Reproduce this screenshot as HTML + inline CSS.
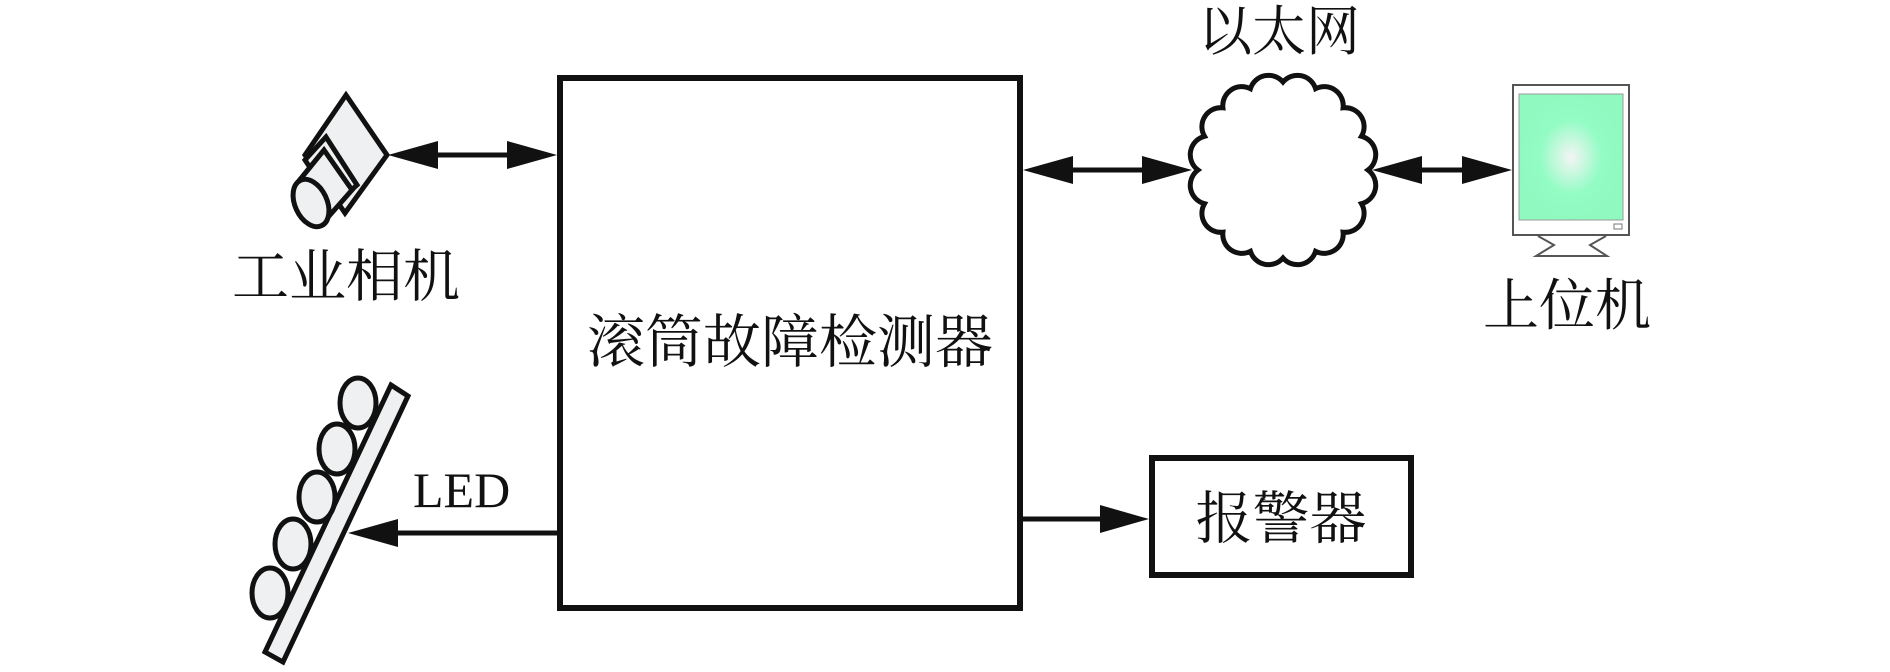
<!DOCTYPE html>
<html><head><meta charset="utf-8"><style>
html,body{margin:0;padding:0;background:#fff;}
svg{display:block;}
text{font-family:"Liberation Serif","Noto Serif CJK SC",serif;fill:#111;}
</style></head><body>
<svg width="1890" height="672" viewBox="0 0 1890 672" xmlns="http://www.w3.org/2000/svg">
<defs>
<radialGradient id="scr" cx="0.5" cy="0.5" r="0.5">
<stop offset="0" stop-color="#f4f4f4"/><stop offset="0.6" stop-color="#92fcc4"/><stop offset="1" stop-color="#8ff9c0"/>
</radialGradient>
</defs>
<!-- main box -->
<rect x="560" y="78" width="460" height="530" fill="#fff" stroke="#111" stroke-width="6"/>
<text x="790" y="362" font-size="58" text-anchor="middle">滚筒故障检测器</text>

<!-- camera -->
<g stroke="#111" stroke-width="5" fill="#eef0f1" stroke-linejoin="miter">
<polygon points="346,95 387,155 345,213 305,155"/>
<polygon points="326,137 357,185 335,205 305,160"/>
<polygon points="298,182 324,150 352,190 322,224"/>
<ellipse cx="311" cy="203" rx="16" ry="25" transform="rotate(-25 311 203)"/>
</g>
<!-- camera arrow -->
<line x1="420" y1="155" x2="525" y2="155" stroke="#111" stroke-width="5"/>
<polygon points="388,155 438,141 438,169" fill="#111"/>
<polygon points="557,155 507,141 507,169" fill="#111"/>
<text x="232" y="296" font-size="57">工业相机</text>

<!-- LED strip -->
<g stroke="#111" stroke-width="5" fill="#eef0f1">
<polygon points="391,385 408,396 283,662 265,652"/>
<ellipse cx="358" cy="403" rx="18" ry="25"/>
<ellipse cx="337" cy="449" rx="18" ry="25"/>
<ellipse cx="317" cy="497" rx="18" ry="25"/>
<ellipse cx="293" cy="544" rx="18" ry="25"/>
<ellipse cx="270" cy="593" rx="18" ry="25"/>
</g>
<line x1="557" y1="533" x2="380" y2="533" stroke="#111" stroke-width="5"/>
<polygon points="348,533 398,519 398,547" fill="#111"/>
<text x="413" y="507" font-size="50">LED</text>

<!-- ethernet cloud -->
<path d="M1368,170 A19,19 0 0 1 1361.5,203.7 A19,19 0 0 1 1343.1,232.2 A19,19 0 0 1 1315.6,251.3 A19,19 0 0 1 1283,258 A19,19 0 0 1 1250.4,251.3 A19,19 0 0 1 1222.9,232.2 A19,19 0 0 1 1204.5,203.7 A19,19 0 0 1 1198,170 A19,19 0 0 1 1204.5,136.3 A19,19 0 0 1 1222.9,107.8 A19,19 0 0 1 1250.4,88.7 A19,19 0 0 1 1283,82 A19,19 0 0 1 1315.6,88.7 A19,19 0 0 1 1343.1,107.8 A19,19 0 0 1 1361.5,136.3 A19,19 0 0 1 1368,170 Z" fill="#fff" stroke="#111" stroke-width="5"/>
<line x1="1050" y1="170" x2="1165" y2="170" stroke="#111" stroke-width="5"/>
<polygon points="1023,170 1073,156 1073,184" fill="#111"/>
<polygon points="1192,170 1142,156 1142,184" fill="#111"/>
<line x1="1400" y1="170" x2="1485" y2="170" stroke="#111" stroke-width="5"/>
<polygon points="1372,170 1422,156 1422,184" fill="#111"/>
<polygon points="1512,170 1462,156 1462,184" fill="#111"/>
<text x="1198" y="50" font-size="54">以太网</text>

<!-- monitor -->
<rect x="1513" y="85" width="116" height="150" fill="#fff" stroke="#555" stroke-width="2"/>
<rect x="1519" y="94" width="104" height="126" fill="url(#scr)" stroke="#999" stroke-width="1"/>
<path d="M1538,236 L1554,245 L1536,256 L1607,256 L1590,245 L1606,236" fill="#fff" stroke="#555" stroke-width="2"/>
<rect x="1614" y="224" width="8" height="5" fill="none" stroke="#777" stroke-width="1"/>
<text x="1483" y="325" font-size="56">上位机</text>

<!-- alarm -->
<rect x="1152" y="458" width="259" height="117" fill="#fff" stroke="#111" stroke-width="6"/>
<line x1="1022" y1="519" x2="1110" y2="519" stroke="#111" stroke-width="5"/>
<polygon points="1149,519 1100,505 1100,533" fill="#111"/>
<text x="1281" y="538" font-size="57" text-anchor="middle">报警器</text>
</svg>
</body></html>
